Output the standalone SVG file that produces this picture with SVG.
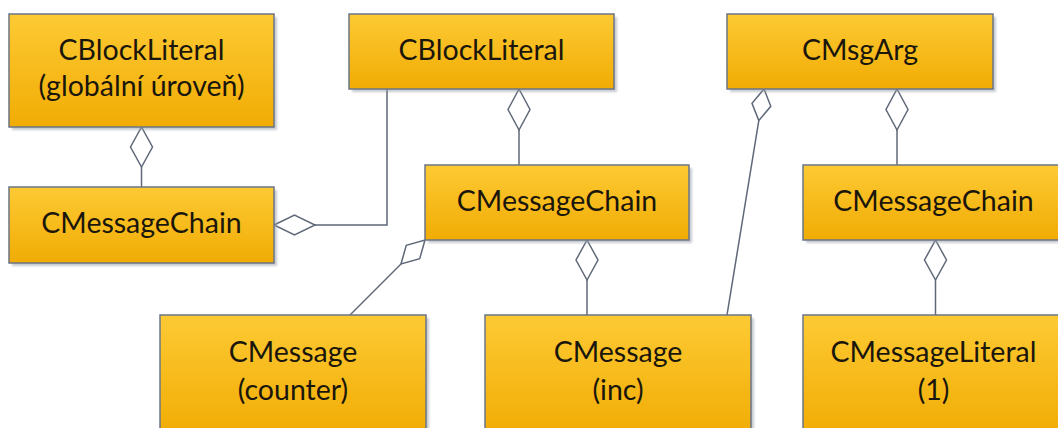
<svg xmlns="http://www.w3.org/2000/svg" width="1058" height="428" viewBox="0 0 1058 428">
  <defs>
    <linearGradient id="boxFill" x1="0" y1="0" x2="0" y2="1">
      <stop offset="0" stop-color="#fdca34"/>
      <stop offset="1" stop-color="#f1ac04"/>
    </linearGradient>
    <filter id="soft" x="-10%" y="-10%" width="120%" height="120%">
      <feGaussianBlur stdDeviation="1.2"/>
    </filter>
    <style>
      .shadow { fill: #9aa0aa; opacity: 0.55; filter: url(#soft); }
      .box { fill: url(#boxFill); stroke: #6b7586; stroke-width: 1.5; }
      .label { font-family: "Lato", "Liberation Sans", sans-serif; font-size: 28.5px; fill: #1a160c; text-anchor: middle; }
      .conn { fill: none; stroke: #5f6879; stroke-width: 1.5; }
      .dia { fill: #ffffff; stroke: #5f6879; stroke-width: 1.5; stroke-linejoin: miter; }
    </style>
  </defs>

  <rect width="1058" height="428" fill="#ffffff"/>

  <!-- connectors (aggregation lines with hollow diamonds) -->
  <g id="connectors">
    <line class="conn" x1="141.5" y1="167" x2="141.5" y2="187"/>
    <polygon class="dia" points="141.5,127 152.5,147 141.5,167 130.5,147"/>

    <polyline class="conn" points="315,225 387,225 387,89"/>
    <polygon class="dia" points="274,225 294.5,215 315,225 294.5,235"/>

    <line class="conn" x1="519" y1="130" x2="519" y2="165"/>
    <polygon class="dia" points="519,89 530,109.5 519,130 508,109.5"/>

    <line class="conn" x1="401" y1="264" x2="350" y2="315"/>
    <polygon class="dia" points="425,240 419.7,258.7 401,264 406.3,245.3"/>

    <line class="conn" x1="587" y1="280" x2="587" y2="315"/>
    <polygon class="dia" points="587,240 598,260 587,280 576,260"/>

    <line class="conn" x1="758.8" y1="120.6" x2="727" y2="315"/>
    <polygon class="dia" points="764,89 770.8,106.3 758.8,120.6 752,103.3"/>

    <line class="conn" x1="897" y1="130" x2="897" y2="165"/>
    <polygon class="dia" points="897,89 908,109.5 897,130 886,109.5"/>

    <line class="conn" x1="935.5" y1="280" x2="935.5" y2="315"/>
    <polygon class="dia" points="935.5,240 946.5,260 935.5,280 924.5,260"/>
  </g>

  <g id="blockLiteralGlobal">
    <rect class="shadow" x="12" y="17" width="265" height="113"/>
    <rect class="box" x="9" y="14" width="265" height="113"/>
    <text class="label" x="141.5" y="60">CBlockLiteral</text>
    <text class="label" x="141.5" y="96">(globální úroveň)</text>
  </g>

  <g id="messageChainGlobal">
    <rect class="shadow" x="12" y="190" width="265" height="76"/>
    <rect class="box" x="9" y="187" width="265" height="76"/>
    <text class="label" x="141.5" y="233">CMessageChain</text>
  </g>

  <g id="blockLiteral">
    <rect class="shadow" x="352" y="17" width="265" height="75"/>
    <rect class="box" x="349" y="14" width="265" height="75"/>
    <text class="label" x="481.5" y="60">CBlockLiteral</text>
  </g>

  <g id="messageChain">
    <rect class="shadow" x="428" y="168" width="264" height="75"/>
    <rect class="box" x="425" y="165" width="264" height="75"/>
    <text class="label" x="557" y="211">CMessageChain</text>
  </g>

  <g id="msgArg">
    <rect class="shadow" x="730" y="17" width="266" height="75"/>
    <rect class="box" x="727" y="14" width="266" height="75"/>
    <text class="label" x="860" y="60">CMsgArg</text>
  </g>

  <g id="messageChainArg">
    <rect class="shadow" x="806" y="168" width="265" height="75"/>
    <rect class="box" x="803" y="165" width="265" height="75"/>
    <text class="label" x="933.5" y="211">CMessageChain</text>
  </g>

  <g id="messageCounter">
    <rect class="shadow" x="163" y="318" width="266" height="120"/>
    <rect class="box" x="160" y="315" width="266" height="120"/>
    <text class="label" x="293" y="362">CMessage</text>
    <text class="label" x="293" y="400">(counter)</text>
  </g>

  <g id="messageInc">
    <rect class="shadow" x="488" y="318" width="266" height="120"/>
    <rect class="box" x="485" y="315" width="266" height="120"/>
    <text class="label" x="618" y="362">CMessage</text>
    <text class="label" x="618" y="400">(inc)</text>
  </g>

  <g id="messageLiteral">
    <rect class="shadow" x="806" y="318" width="265" height="120"/>
    <rect class="box" x="803" y="315" width="265" height="120"/>
    <text class="label" x="933.5" y="362">CMessageLiteral</text>
    <text class="label" x="933.5" y="400">(1)</text>
  </g>
</svg>
